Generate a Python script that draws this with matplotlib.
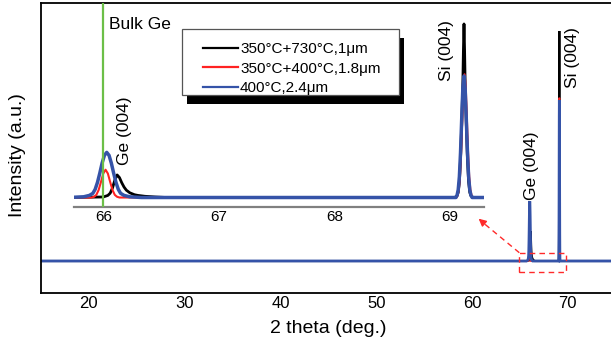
import matplotlib
matplotlib.use("Agg")
import matplotlib.pyplot as plt
from matplotlib.patches import Rectangle
from matplotlib.transforms import IdentityTransform

plt.rcParams['font.family'] = ['Liberation Sans', 'DejaVu Sans']

# ---------------- data ----------------
labels = ["350°C+730°C,1μm", "350°C+400°C,1.8μm", "400°C,2.4μm"]
colors = ["#000000", "#ff2222", "#3553a8"]

tt_black = [15.0, 65.70, 66.00, 66.04, 66.06, 66.08, 66.10, 66.12, 66.14, 66.16,
            66.18, 66.20, 66.23, 66.27, 66.30, 66.36, 66.45, 66.55,
            69.04, 69.06, 69.07, 69.08, 69.09, 69.10, 69.11, 69.115, 69.12,
            69.125, 69.13, 69.14, 69.15, 69.16, 69.17, 69.18, 69.20, 75.0]
int_black = [0.0, 0.0, 0.003, 0.012, 0.025, 0.055, 0.10, 0.13, 0.115, 0.085,
             0.06, 0.042, 0.027, 0.016, 0.012, 0.007, 0.003, 0.0,
             0.0, 0.01, 0.03, 0.09, 0.22, 0.42, 0.66, 0.85, 1.0,
             0.85, 0.66, 0.42, 0.22, 0.09, 0.03, 0.01, 0.0, 0.0]

tt_red = [15.0, 65.70, 65.90, 65.92, 65.94, 65.96, 65.98, 66.00, 66.02, 66.04,
          66.06, 66.08, 66.10, 66.12, 66.14,
          69.055, 69.065, 69.075, 69.085, 69.095, 69.105, 69.115, 69.125,
          69.135, 69.145, 69.155, 69.165, 69.175, 69.185, 69.195, 75.0]
int_red = [0.0, 0.0, 0.0, 0.004, 0.015, 0.043, 0.089, 0.138, 0.16, 0.138,
           0.089, 0.043, 0.015, 0.004, 0.0,
           0.0, 0.013, 0.045, 0.12, 0.26, 0.45, 0.64, 0.71,
           0.64, 0.45, 0.26, 0.12, 0.045, 0.013, 0.0, 0.0]

tt_blue = [15.0, 65.70, 65.83, 65.88, 65.91, 65.93, 65.95, 65.97, 65.99, 66.01,
           66.03, 66.05, 66.07, 66.09, 66.11, 66.13, 66.15, 66.18, 66.23, 66.33,
           69.05, 69.06, 69.07, 69.08, 69.09, 69.10, 69.11, 69.12, 69.13,
           69.14, 69.15, 69.16, 69.17, 69.18, 69.19, 75.0]
int_blue = [0.0, 0.0, 0.004, 0.012, 0.024, 0.047, 0.087, 0.14, 0.198, 0.243,
            0.26, 0.243, 0.198, 0.14, 0.087, 0.047, 0.024, 0.012, 0.004, 0.0,
            0.0, 0.013, 0.045, 0.12, 0.26, 0.45, 0.63, 0.70, 0.63,
            0.45, 0.26, 0.12, 0.045, 0.013, 0.0, 0.0]

series_x = [tt_black, tt_red, tt_blue]
series_y = [int_black, int_red, int_blue]

bulk_ge = 66.0
main_ticks = [20, 30, 40, 50, 60, 70]
inset_ticks = [66, 67, 68, 69]

# ---------------- figure ----------------
W, H = 611, 345
fig = plt.figure(figsize=(W / 100, H / 100), dpi=100)

# main axes
ax = fig.add_axes([41 / W, 1 - 293.3 / H, 60 * 9.578 / W, 290.0 / H])
ax.set_xlim(15, 75)
ax.set_ylim(-0.1404, 1.1204)
main_lw = [1.5, 1.2, 2.0]
for xs, ys, c, lw in zip(series_x, series_y, colors, main_lw):
    ax.plot(xs, ys, color=c, lw=lw, solid_joinstyle='miter')
ax.set_xticks(main_ticks)
ax.set_yticks([])
ax.tick_params(axis='x', length=0, pad=2, labelsize=12)
for s in ['left', 'top', 'bottom']:
    ax.spines[s].set_linewidth(1.3)
ax.spines['right'].set_visible(False)
ax.set_xlabel("2 theta (deg.)", fontsize=14)
ax.set_ylabel("Intensity (a.u.)", fontsize=14)
ax.xaxis.label.set_va('center')
ax.yaxis.label.set_va('center')
ax.xaxis.set_label_coords(0.5, -0.123)
ax.yaxis.set_label_coords(-(41 - 17.5) / (60 * 9.578), 0.477)

# zoom box and arrow
ax.add_patch(Rectangle((64.94, -0.0465), 4.87, 0.0825, fill=False,
                       edgecolor='#ff2a2a', ls=(0, (4, 3)), lw=1.0, zorder=5))
ax.plot([64.94, 61.2], [0.036, 0.165], color='#ff2a2a', ls=(0, (4, 3)), lw=1.0)
ax.annotate('', xy=(60.69, 0.184), xytext=(61.3, 0.162),
            arrowprops=dict(arrowstyle='-|>', color='#ff2a2a', lw=1.0,
                            mutation_scale=11, shrinkA=0, shrinkB=0))

ax.text(66.25, 0.267, "Ge (004)", rotation=90, ha='center', va='bottom', fontsize=12.5)
ax.text(70.54, 0.752, "Si (004)", rotation=90, ha='center', va='bottom', fontsize=12.5)

# inset axes
ax2 = fig.add_axes([74 / W, 1 - 206.7 / H, 410 / W, 203.4 / H])
ax2.patch.set_visible(False)
ax2.set_xlim(65.747, 69.293)
ax2.set_ylim(-0.053, 1.119)
inset_lw = [2.0, 1.5, 2.5]
handles = []
for xs, ys, c, lw, lab in zip(series_x, series_y, colors, inset_lw, labels):
    ln, = ax2.plot(xs, ys, color=c, lw=lw, label=lab)
    handles.append(ln)
ax2.axvline(bulk_ge, color='#6cbf48', lw=1.6, zorder=6)
ax2.set_xticks(inset_ticks)
ax2.set_yticks([])
ax2.tick_params(axis='x', length=0, pad=2.5, labelsize=11)
for s in ['left', 'top', 'right']:
    ax2.spines[s].set_visible(False)
ax2.spines['bottom'].set_color('#808080')
ax2.spines['bottom'].set_linewidth(1.6)

ax2.text(66.05, 0.995, "Bulk Ge", ha='left', va='center', fontsize=12.5)
ax2.text(66.186, 0.187, "Ge (004)", rotation=90, ha='center', va='bottom', fontsize=12.5)
ax2.text(68.965, 0.669, "Si (004)", rotation=90, ha='center', va='bottom', fontsize=12.5)

bp = 0.35
leg = ax2.legend(handles=handles, loc='upper left',
                 bbox_to_anchor=(197.95 / W, 1 - 37.1 / H),
                 bbox_transform=fig.transFigure, borderaxespad=0,
                 fontsize=11, frameon=False,
                 handlelength=2.3, handletextpad=0.1, borderpad=bp,
                 labelspacing=0.345)
leg.set_zorder(10)
for l in leg.get_lines():
    l.set_linewidth(1.6)

fig.canvas.draw()
bb = leg.get_window_extent(fig.canvas.get_renderer())
fx0 = bb.x0 - 16.25
fx1 = bb.x1 + 13.0
fy0 = bb.y0 + 5.5
fy1 = bb.y1 + 8.1
frame = Rectangle((fx0, fy0), fx1 - fx0, fy1 - fy0,
                  transform=IdentityTransform(), facecolor='white',
                  edgecolor='#555555', lw=0.9, clip_on=False, zorder=9.5)
shadow = Rectangle((fx0 + 5.5, fy0 - 9), fx1 - fx0, fy1 - fy0,
                   transform=IdentityTransform(), facecolor='black',
                   edgecolor='none', clip_on=False, zorder=9)
ax2.add_artist(shadow)
ax2.add_artist(frame)

fig.savefig("out.png", dpi=100)
